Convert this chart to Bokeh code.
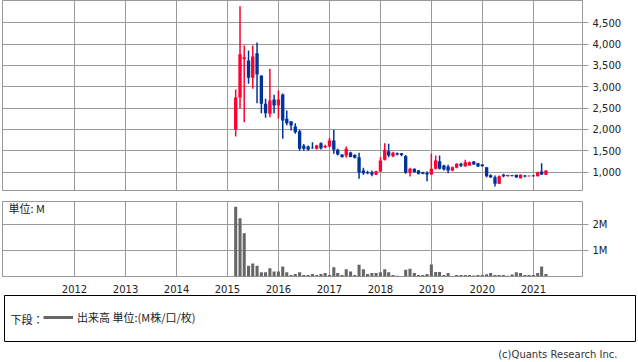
import pandas as pd
from bokeh.plotting import figure
from bokeh.layouts import column
from bokeh.models import (Range1d, FixedTicker, NumeralTickFormatter, DatetimeTickFormatter,
                          Label, Legend, LegendItem, ColumnDataSource)
from bokeh.embed import file_html
from bokeh.resources import INLINE

# ---------------- data (monthly candles, Mar 2015 - Apr 2021) ----------------
months = pd.date_range("2015-03-01", "2021-04-01", freq="MS")

opens = [1998, 2749, 3650, 3616, 3210, 3787, 3264, 2601, 2367, 2702,
         2561, 2819, 2249, 2193, 2069, 1959, 1620, 1600, 1570, 1546, 1677, 1580,
         1600, 1741, 1522, 1412, 1389, 1460, 1400, 1350, 1037, 1000, 998, 937,
         1014, 1288, 1490, 1373, 1440, 1440, 1373, 983, 1077, 1037, 998, 980,
         944, 1077, 1256, 1155, 1131, 1037, 1100, 1194, 1131, 1155, 1248, 1209,
         1178, 1115, 927, 880, 726, 937, 904, 925, 937, 857, 920, 905,
         920, 904, 1014, 937]
closes = [2749, 3764, 3690, 3210, 3710, 3288, 2601, 2381, 2678, 2561,
          2702, 2209, 2146, 2092, 1935, 1546, 1546, 1530, 1560, 1623, 1560, 1610,
          1741, 1522, 1412, 1349, 1546, 1355, 1335, 983, 975, 975, 944, 1021,
          1272, 1523, 1389, 1452, 1410, 1400, 983, 1077, 1000, 960, 960, 944,
          1077, 1272, 1077, 1061, 1037, 1115, 1194, 1147, 1232, 1232, 1178, 1131,
          1139, 904, 880, 726, 904, 904, 930, 910, 880, 937, 900, 912,
          905, 998, 944, 1037]
highs = [2936, 4889, 3968, 3850, 3968, 4038, 3264, 2718, 3421, 2812,
         2913, 2840, 2444, 2193, 2146, 1991, 1660, 1623, 1700, 1640, 1700, 1640,
         1800, 1991, 1546, 1420, 1600, 1480, 1420, 1452, 1100, 1030, 1037, 1030,
         1350, 1677, 1663, 1480, 1460, 1450, 1400, 1100, 1085, 1050, 1010, 1021,
         1429, 1390, 1390, 1170, 1170, 1130, 1210, 1220, 1290, 1250, 1260, 1220,
         1190, 1115, 950, 920, 920, 960, 940, 935, 940, 945, 930, 920,
         930, 1010, 1209, 1045]
lows = [1834, 2498, 2170, 3070, 2952, 2615, 2381, 2273, 2287, 2381,
        2257, 1780, 2100, 1975, 1897, 1499, 1499, 1499, 1546, 1530, 1530, 1560,
        1580, 1429, 1389, 1349, 1335, 1350, 1320, 843, 937, 950, 905, 930,
        1000, 1272, 1350, 1350, 1390, 1370, 960, 897, 990, 945, 950, 787,
        937, 1060, 1060, 1037, 975, 1020, 1090, 1120, 1131, 1150, 1170, 1120,
        1130, 880, 860, 662, 720, 880, 895, 900, 860, 850, 880, 900,
        895, 900, 930, 930]
volumes_m = [2.66, 2.22, 1.65, 0.41, 0.50, 0.41, 0.16, 0.16, 0.31, 0.19,
             0.19, 0.38, 0.16, 0.06, 0.10, 0.16, 0.06, 0.06, 0.10, 0.06, 0.10, 0.13,
             0.06, 0.35, 0.13, 0.06, 0.28, 0.19, 0.06, 0.45, 0.28, 0.10, 0.13, 0.13,
             0.16, 0.28, 0.16, 0.06, 0.03, 0.01, 0.26, 0.30, 0.13, 0.06, 0.06, 0.10,
             0.46, 0.17, 0.17, 0.06, 0.13, 0.02, 0.06, 0.06, 0.06, 0.06, 0.04, 0.06,
             0.06, 0.09, 0.13, 0.06, 0.06, 0.06, 0.03, 0.08, 0.16, 0.13, 0.06, 0.06,
             0.06, 0.13, 0.38, 0.10]

years = list(range(2012, 2022))
price_ticks = [1000, 1500, 2000, 2500, 3000, 3500, 4000, 4500]
vol_ticks = [1, 2]
vol_tick_labels = ["1M", "2M"]
legend_title = "下段："
legend_label = "出来高 単位:(M株/口/枚)"
unit_label = "単位: M"
credit = "(c)Quants Research Inc."

# ---------------- styling ----------------
UP = "#FF0033"
DOWN = "#003399"
GRID = "#999999"
VOLC = "#666666"
AXFONT = "DejaVu Sans"
JPFONT = "Noto Sans CJK JP"
DAY = 86400000

year_ms = [pd.Timestamp(f"{y}-01-01").value // 10**6 for y in years]
x_range = Range1d(start=pd.Timestamp("2010-08-03"), end=pd.Timestamp("2021-12-19"))

colors = [UP if c >= o else DOWN for o, c in zip(opens, closes)]
src = ColumnDataSource(dict(
    t=months, o=opens, c=closes, h=highs, l=lows,
    top=[max(o, c) for o, c in zip(opens, closes)],
    bot=[min(o, c) for o, c in zip(opens, closes)],
    col=colors, vol=volumes_m))


def style_yaxis(ax):
    ax.axis_line_color = None
    ax.major_tick_line_color = GRID
    ax.major_tick_out = 6
    ax.major_tick_in = 0
    ax.minor_tick_line_color = None
    ax.major_label_standoff = 4
    ax.major_label_text_font = AXFONT
    ax.major_label_text_font_size = "10px"
    ax.major_label_text_color = "#222222"


# ---------------- price panel ----------------
p = figure(width=638, height=196, x_range=x_range, y_range=Range1d(569, 5022),
           x_axis_type="datetime", x_axis_location=None, y_axis_location="right",
           output_backend="svg", toolbar_location=None,
           min_border_left=2, min_border_right=56, min_border_top=0, min_border_bottom=6)
p.outline_line_color = GRID
p.xgrid.ticker = FixedTicker(ticks=year_ms)
p.yaxis.ticker = FixedTicker(ticks=price_ticks)
p.yaxis.formatter = NumeralTickFormatter(format="0,0")
style_yaxis(p.yaxis[0])
for g in (p.xgrid[0], p.ygrid[0]):
    g.grid_line_color = GRID
    g.grid_line_width = 1
p.segment(x0="t", y0="l", x1="t", y1="h", line_color="col", line_width=1.5, source=src)
p.vbar(x="t", top="top", bottom="bot", width=24 * DAY, fill_color="col",
       line_color=None, source=src)

# ---------------- volume panel ----------------
v = figure(width=638, height=99, x_range=x_range, y_range=Range1d(0, 2.86),
           x_axis_type="datetime", y_axis_location="right",
           output_backend="svg", toolbar_location=None,
           min_border_left=2, min_border_right=56, min_border_top=5, min_border_bottom=15)
v.outline_line_color = GRID
v.xaxis.ticker = FixedTicker(ticks=year_ms)
v.xaxis.formatter = DatetimeTickFormatter(years="%Y", months="%Y", days="%Y")
v.xaxis.axis_line_color = None
v.xaxis.major_tick_line_color = None
v.xaxis.minor_tick_line_color = None
v.xaxis.major_label_standoff = 2
v.xaxis.major_label_text_font = AXFONT
v.xaxis.major_label_text_font_size = "10px"
v.xaxis.major_label_text_color = "#222222"
v.yaxis.ticker = FixedTicker(ticks=vol_ticks)
v.yaxis.major_label_overrides = {t: s for t, s in zip(vol_ticks, vol_tick_labels)}
style_yaxis(v.yaxis[0])
for g in (v.xgrid[0], v.ygrid[0]):
    g.grid_line_color = GRID
    g.grid_line_width = 1
v.vbar(x="t", top="vol", bottom=0, width=22 * DAY, fill_color=VOLC,
       line_color=None, source=src)
v.add_layout(Label(x=6, y=69, x_units="screen", y_units="screen", text=unit_label,
                   text_font=JPFONT, text_font_size="11px",
                   text_baseline="middle", text_color="#222222"))

# ---------------- legend / footer panel ----------------
f = figure(frame_width=631, frame_height=46, x_range=Range1d(0, 1), y_range=Range1d(0, 1),
           x_axis_location=None, y_axis_location=None,
           output_backend="svg", toolbar_location=None,
           min_border_left=4, min_border_right=3, min_border_top=0, min_border_bottom=21,
           title=credit, title_location="below")
f.grid.visible = False
f.outline_line_color = "#000000"
f.title.align = "right"
f.title.offset = 18
f.title.text_font = AXFONT
f.title.text_font_size = "10px"
f.title.text_font_style = "normal"
f.title.text_color = "#333333"
# legend-only sample line (kept outside the visible range)
r = f.line(x=[-3, -2], y=[-3, -2], line_color=VOLC, line_width=3)
leg = Legend(items=[LegendItem(label=legend_label, renderers=[r])],
             location=(39, 16), orientation="horizontal",
             glyph_width=30, glyph_height=12, label_standoff=4,
             padding=0, margin=0, spacing=0,
             border_line_color=None, background_fill_alpha=0,
             label_text_font=JPFONT, label_text_font_size="11px",
             label_text_color="#222222")
f.add_layout(leg, "center")
f.add_layout(Label(x=6, y=23, x_units="screen", y_units="screen", text=legend_title,
                   text_font=JPFONT, text_font_size="11px",
                   text_baseline="middle", text_color="#222222"))

layout = column(column(p, v, spacing=0), f, spacing=0)
open("out.html", "w").write(file_html(layout, INLINE))
